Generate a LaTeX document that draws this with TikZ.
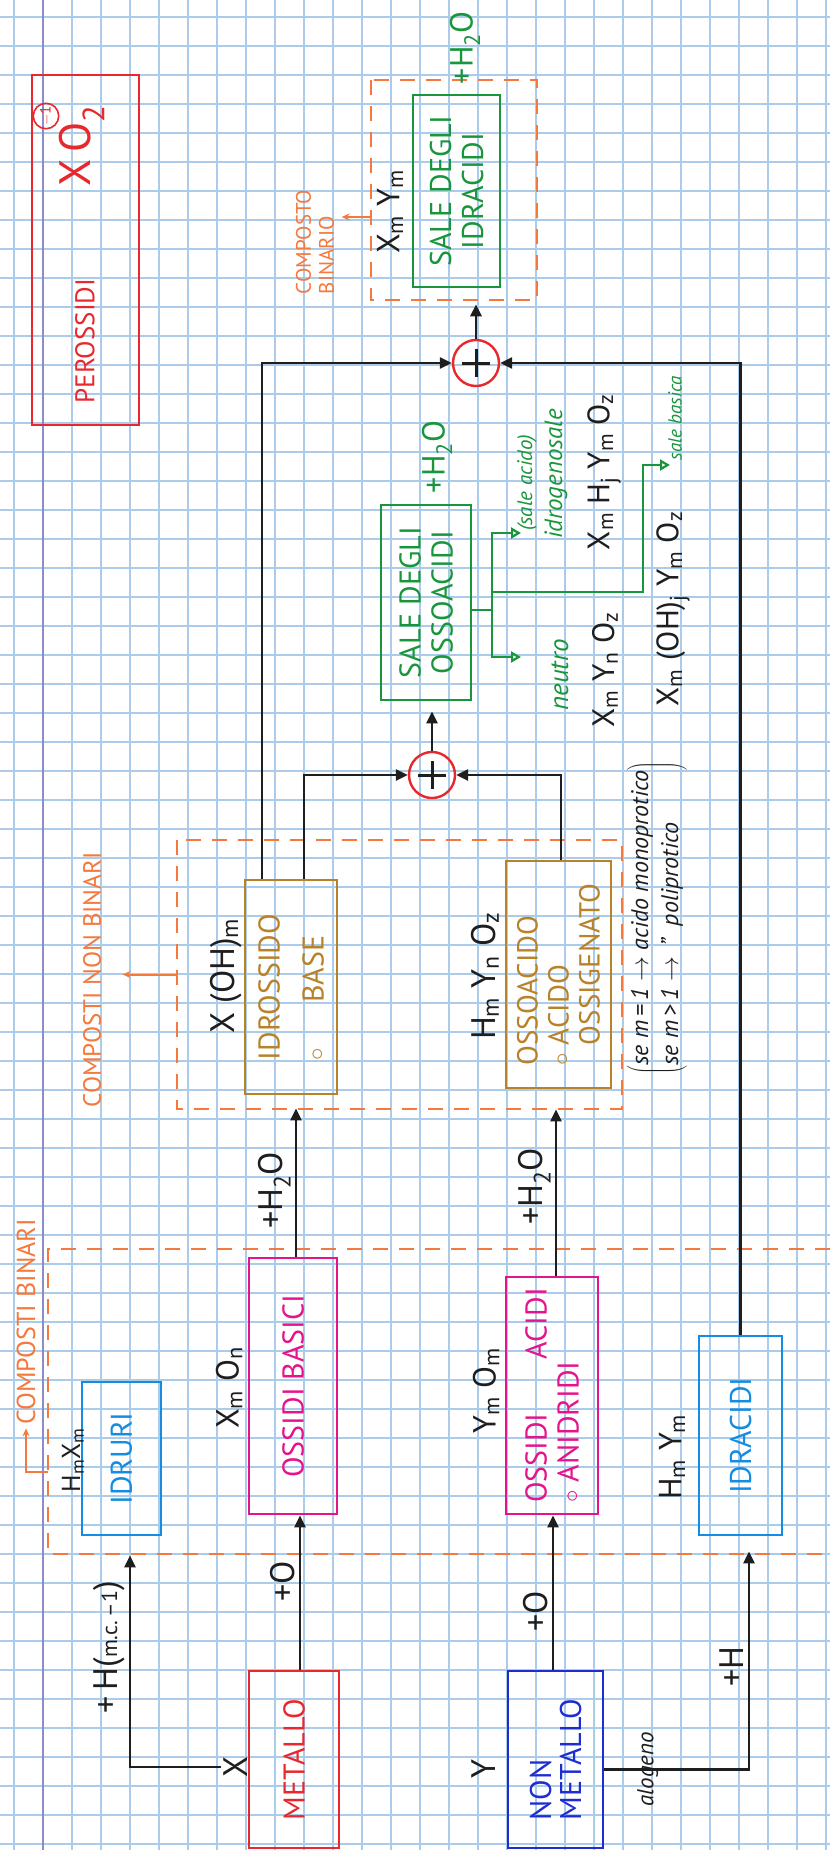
\documentclass[tikz,border=0pt]{standalone}
\usepackage{fontspec}
\setmainfont{PT Sans}
\usetikzlibrary{arrows.meta,positioning}

\definecolor{ink}{RGB}{30,30,30}
\definecolor{redpen}{RGB}{232,40,45}
\definecolor{magpen}{RGB}{230,20,140}
\definecolor{skypen}{RGB}{20,140,225}
\definecolor{bluepen}{RGB}{30,45,210}
\definecolor{ochrepen}{RGB}{185,130,40}
\definecolor{greenpen}{RGB}{25,150,60}
\definecolor{orangepen}{RGB}{245,120,60}
\definecolor{gridblue}{RGB}{170,204,234}
\definecolor{marginline}{RGB}{140,140,200}

\newcommand{\ix}[1]{\textsubscript{#1}}
\newcommand{\fsz}[2]{\fontsize{#1}{#2}\selectfont}

\tikzset{
  box/.style={draw, line width=2.8pt, inner sep=3pt, align=left},
  zone/.style={draw=orangepen, dash pattern=on 15pt off 11pt, line width=2.6pt},
  arr/.style={draw=ink, line width=2.8pt, -{Triangle[length=12pt,width=11pt]}},
  oarr/.style={draw=orangepen, line width=2pt, -{Stealth[length=8pt,width=7pt]}},
  gline/.style={draw=greenpen, line width=2.2pt},
  garr/.style={gline, -{Triangle[open,length=10pt,width=11pt]}},
  lab/.style={anchor=south, inner sep=4pt, text=ink, font=\fsz{34}{34}},
  plus/.style={circle, draw=redpen, line width=2.4pt, minimum size=46pt, inner sep=0pt,
    path picture={\draw[ink, line width=3pt]
      ([xshift=-14pt]path picture bounding box.center) -- ([xshift=14pt]path picture bounding box.center)
      ([yshift=-14pt]path picture bounding box.center) -- ([yshift=14pt]path picture bounding box.center);}},
  formula/.style={text=ink, font=\fsz{32}{32}},
  hand/.style={font=\itshape\fsz{#1}{#1}},
  hand/.default=20
}

\begin{document}
\begin{tikzpicture}[x=1pt, y=-1pt, every node/.style={rotate=90, font=\fsz{30}{32}}]
  \useasboundingbox (0,0) rectangle (830,1850);

  % squared notebook paper
  \fill[white] (0,0) rectangle (830,1850);
  \foreach \gx in {14,43,...,830} {\draw[gridblue, line width=1.3pt] (\gx,0) -- (\gx,1850);}
  \foreach \gy in {17,46,...,1850} {\draw[gridblue, line width=1.3pt] (0,\gy) -- (830,\gy);}
  \draw[marginline, line width=1.6pt] (43,0) -- (43,1850);

  % compound families (dashed zones)
  \draw[zone] (830,1249) -- (48,1249) -- (48,1554) -- (830,1554);
  \node[text=orangepen, font=\fsz{26}{26}] (binlab) at (26,1322) {COMPOSTI BINARI};
  \coordinate (binfoot) at (48,1472);
  \draw[oarr] (binfoot) -| (binlab.west);

  \node[zone, minimum width=269pt, minimum height=445pt] (nonbinzone) at (399.5,974.5) {};
  \node[text=orangepen, font=\fsz{25}{25}] (nonbinlab) at (92,980) {COMPOSTI NON BINARI};
  \draw[oarr, shorten >=18pt] (nonbinzone.north) -- (nonbinzone.north -| nonbinlab.south);

  \node[zone, minimum width=220pt, minimum height=166pt] (binozone) at (454,190) {};
  \node[text=orangepen, font=\fsz{21}{23}, align=left] (binolab) at (315,242) {COMPOSTO\\BINARIO};
  \draw[oarr, shorten >=4pt] ([yshift=-27pt]binozone.north) -- ([yshift=-27pt]binozone.north -| binolab.south);

  % peroxides
  \node[box, draw=redpen, minimum width=350pt, minimum height=107pt] (perox) at (85.5,250) {};
  \node[text=redpen, font=\fsz{27}{27}] (peroxname) at (85,341) {PEROSSIDI};
  \node[text=redpen, font=\fsz{44}{44}] (peroxform) at (82,146) {X\,O\ix{2}};
  \node[circle, draw=redpen, line width=1.6pt, inner sep=1pt, text=redpen, font=\fsz{15}{15}] (peroxcharge) at (46,116) {$-$1};

  % boxes
  \node[box, draw=skypen, text=skypen, minimum width=153pt, minimum height=79pt] (idruri) at (121.5,1458.5) {IDRURI};
  \node[box, draw=magpen, text=magpen, minimum width=256pt, minimum height=88pt] (ossbas) at (293,1386) {OSSIDI BASICI};
  \node[box, draw=redpen, text=redpen, minimum width=177pt, minimum height=90pt] (metallo) at (294,1759.5) {METALLO};
  \node[box, draw=bluepen, text=bluepen, minimum width=177pt, minimum height=95pt, font=\fsz{30}{30}] (nonmet) at (555.5,1759.5) {NON\\METALLO};
  \node[box, draw=magpen, text=magpen, minimum width=237pt, minimum height=92pt] (ossac) at (552,1395.5) {OSSIDI\hspace{1.8em}ACIDI\\$\circ$ ANIDRIDI};
  \node[box, draw=skypen, text=skypen, minimum width=199pt, minimum height=83pt] (idrac) at (740.5,1435.5) {IDRACIDI};
  \node[box, draw=ochrepen, text=ochrepen, minimum width=214pt, minimum height=92pt, font=\fsz{30}{44}] (idross) at (291,987) {IDROSSIDO\\$\circ$\hspace{1.5em}BASE};
  \node[box, draw=ochrepen, text=ochrepen, minimum width=227pt, minimum height=105pt, font=\fsz{29}{31}] (ossoac) at (558.5,974.5) {OSSOACIDO\\$\circ$ ACIDO\\\phantom{$\circ$ }OSSIGENATO};
  \node[box, draw=greenpen, text=greenpen, minimum width=195pt, minimum height=90pt, align=center] (saleoss) at (426,602.5) {SALE DEGLI\\OSSOACIDI};
  \node[box, draw=greenpen, text=greenpen, minimum width=192pt, minimum height=87pt, align=center] (saleidr) at (456.5,191) {SALE DEGLI\\IDRACIDI};

  % formulas
  \node[formula, font=\fsz{26}{26}] (hxlab) at (73,1460) {H\ix{m}X\ix{m}};
  \node[formula] (xolab) at (229,1388) {X\ix{m} O\ix{n}};
  \node[formula] (yolab) at (486,1391) {Y\ix{m} O\ix{m}};
  \node[formula] (hylab) at (672,1457) {H\ix{m} Y\ix{m}};
  \node[formula, font=\fsz{34}{34}] (xlab) at (236,1767) {X};
  \node[formula, font=\fsz{34}{34}] (ylab) at (484,1769) {Y};
  \node[formula, font=\fsz{34}{34}] (xohlab) at (226,976) {X (OH)\ix{m}};
  \node[formula, font=\fsz{34}{34}] (hynlab) at (485,976) {H\ix{m} Y\ix{n} O\ix{z}};
  \node[formula] (xylab) at (390,212) {X\ix{m} Y\ix{m}};
  \node[hand=24, text=ink, font=\itshape\fsz{24}{30}] (mnote) at (657,918)
    {$\left(\begin{tabular}{@{}l@{}}se m\,=\,1 $\rightarrow$ acido monoprotico\\se m\,>\,1 $\rightarrow$ \,''\ \ poliprotico\end{tabular}\right)$};

  % reactions of metal and non metal
  \draw[arr, shorten >=19pt] (xlab.north) -| ([xshift=8.5pt]idruri.west)
    node[lab, pos=0.76] {+\,H(\fsz{22}{22}m.c.\,--1\fsz{34}{34})};
  \draw[arr] ([xshift=6pt]metallo.east) -- ([xshift=7pt]ossbas.west) node[lab, pos=0.57] {+O};
  \draw[arr, shorten >=13pt] ([xshift=3pt]ossbas.east) -- ([xshift=5pt]idross.west) node[lab, pos=0.41] {+H\ix{2}O};
  \draw[arr] ([xshift=-2.5pt]nonmet.east) -- ([xshift=1pt]ossac.west) node[lab, pos=0.38] {+O};
  \draw[arr, shorten >=20pt] ([xshift=4pt]ossac.east) -- ([xshift=-2.5pt]ossoac.west) node[lab, pos=0.48] {+H\ix{2}O};
  \draw[arr, shorten >=15pt] ([yshift=-10pt]nonmet.south) -| ([xshift=8.5pt]idrac.west)
    node[hand=23, text=ink, pos=0.15] {alogeno}
    node[lab, pos=0.72] {+H};

  % neutralisations
  \node[plus] (plusA) at (432,775) {};
  \node[plus] (plusB) at (476,363) {};
  \draw[arr] ([xshift=13pt]idross.east) |- (plusA);
  \draw[arr] ([xshift=2.5pt]ossoac.east) |- (plusA);
  \draw[arr] ([xshift=-29pt]idross.east) |- (plusB);
  \draw[arr] (idrac.east) |- (plusB);
  \draw[arr, shorten >=10pt] (plusA) -- (plusA |- saleoss.west);
  \draw[arr, shorten >=3pt] (plusB) -- (plusB |- binozone.west);

  \node[text=greenpen, font=\fsz{32}{32}] (waterA) at (437,457) {+H\ix{2}O};
  \node[text=greenpen, font=\fsz{32}{32}] (waterB) at (465,48) {+H\ix{2}O};

  % kinds of oxoacid salts
  \coordinate (gfork) at (492,610);
  \coordinate (acidtip) at (521,533);
  \coordinate (neutip) at (521,657);
  \coordinate (baskink) at (643,592);
  \coordinate (bastip) at (670,465);
  \draw[gline] (saleoss.south |- gfork) -- (gfork);
  \draw[garr] (gfork) |- (acidtip);
  \draw[garr] (gfork) |- (neutip);
  \draw[garr] (gfork |- baskink) -- (baskink) |- (bastip);

  \node[hand=21, text=greenpen] (acidsalt) at (527,483) {(sale acido)};
  \node[hand=25, text=greenpen] (acidname) at (556,474) {idrogenosale};
  \node[formula, font=\fsz{31}{31}] (acidform) at (604,472) {X\ix{m} H\ix{j} Y\ix{m} O\ix{z}};
  \node[hand=27, text=greenpen] (neutname) at (560,675) {neutro};
  \node[formula, font=\fsz{31}{31}] (neutform) at (605,670) {X\ix{m} Y\ix{n} O\ix{z}};
  \node[formula, font=\fsz{31}{31}] (basform) at (673,609) {X\ix{m} (OH)\ix{j} Y\ix{m} O\ix{z}};
  \node[hand=19, text=greenpen] (basname) at (675,418) {sale basica};
\end{tikzpicture}
\end{document}
